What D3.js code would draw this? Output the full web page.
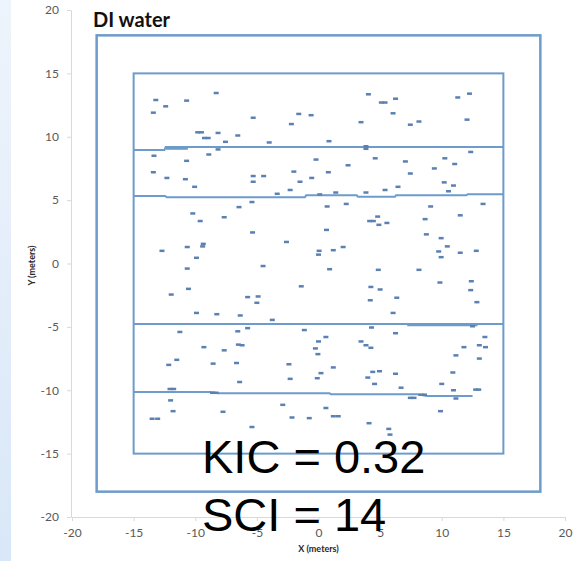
<!DOCTYPE html>
<html>
<head>
<meta charset="utf-8">
<script src="https://cdn.jsdelivr.net/npm/d3@7/dist/d3.min.js"></script>
<style>
  html, body { margin: 0; padding: 0; background: #fff; }
  svg { display: block; }
</style>
</head>
<body>
<svg id="chart" width="581" height="561"></svg>
<script>
// Sampled positions (meters) of the marked points
const pointsX = [
  -8.3, -13.2, -12.4, -10.7, -13.4, -5.3, -1.6, -0.6, -2.2, -9.8, -9.5, -8.15, -9.25, -8.95, -6.55, -7.55, -4.0, 0.85,
  -13.35, -10.7, -8.9, -8.15, -0.2, -13.4, -12.3, -10.8, -10.05, -5.3, -4.45, -5.3, -2.0, -0.55, -1.5, 0.8,
  -2.3, -3.35, 0.1, -6.45, -5.4, 0.7,
  4.05, 5.1, 5.4, 6.25, 6.05, 3.45, 7.45, 8.15, 11.3, 12.25, 12.05, 3.85, 3.85, 12.35, 4.6, 7.05, 10.25, 11.05,
  9.4, 2.4, 7.45, 10.2, 10.95, 10.55, 6.45, 5.4, 3.85, 1.4, 2.25, 9.1, 13.35,
  -10.2, -9.6, -7.65, -5.35, -2.6, 0.65, -12.7, -10.65, -9.35, -9.4, -9.9, -10.65, -4.5, 0.05, 0.0, 0.9,
  -10.55, -11.95, -1.4, -5.75, -4.9, -5.0, -9.9, -8.25, -6.35, -3.75, -11.25, -6.55, -5.75, -1.15, 0.6, 0.0,
  -9.3, -6.5, -6.2, -0.25,
  4.8, 4.15, 4.45, 4.9, 5.55, 8.65, 11.5, 8.75, 9.95, 10.45, 9.75, 9.95, 11.5, 12.8, 1.2, 2.0, 4.85, 8.15,
  4.25, 5.0, 9.85, 12.4, 12.35, 12.85, 4.2, 6.35, 6.05, 4.3, 6.25, 12.5, 3.45, 3.85, 4.25, 11.8, 13.05, 13.5, 13.55,
  -7.65, -0.05, -12.15, -11.5, -8.55, -6.65, -2.4, -2.3, -6.4, 0.2, -0.1, -12.05, -11.75, -8.6, -8.3, -12.0,
  -11.8, -13.5, -13.05, -7.75, -2.9, -2.15, -0.75, 0.6, -5.4,
  11.15, 13.05, 1.2, 4.4, 4.95, 6.25, 4.0, 4.55, 6.7, 10.9, 10.0, 10.95, 12.75, 13.0, 7.45, 7.75, 8.3, 8.6,
  11.15, 1.2, 1.6, 9.9, 4.1, 5.7, 5.8
];
const pointsY = [
  13.45, 12.9, 12.4, 12.85, 11.9, 11.5, 11.8, 11.7, 11.0, 10.35, 10.35, 10.3, 9.9, 9.9, 10.1, 9.6, 9.55, 9.65,
  8.5, 8.1, 8.6, 9.0, 8.2, 7.2, 6.75, 6.65, 6.05, 6.9, 6.9, 6.45, 7.25, 6.75, 6.45, 7.2,
  5.8, 5.5, 5.45, 4.45, 4.85, 4.5,
  13.35, 12.7, 12.7, 13.0, 11.85, 11.15, 10.95, 11.2, 13.1, 13.4, 11.35, 9.25, 9.05, 8.8, 8.3, 8.05, 8.3, 7.85,
  7.5, 7.75, 7.1, 6.4, 6.15, 5.7, 6.05, 5.8, 5.6, 5.6, 4.7, 4.5, 4.7,
  3.95, 3.35, 3.65, 2.45, 1.7, 2.65, 1.0, 1.3, 1.55, 1.35, 0.45, -0.4, -0.2, 1.0, 0.7, -0.45,
  -2.0, -2.45, -1.8, -2.65, -2.6, -3.1, -3.9, -4.0, -4.1, -4.45, -5.4, -5.35, -5.1, -5.25, -5.8, -6.15,
  -6.6, -6.4, -6.45, -6.7,
  3.7, 3.35, 3.35, 3.05, 3.2, 3.5, 3.8, 2.3, 2.0, 1.35, 0.95, 0.5, 0.85, 1.0, 1.05, 1.3, -0.5, -0.5,
  -1.85, -2.05, -1.5, -1.4, -2.1, -3.05, -2.9, -2.7, -3.9, -5.05, -5.5, -4.95, -6.15, -6.45, -6.65, -6.6, -6.45, -5.8, -6.6,
  -6.85, -7.15, -8.0, -7.6, -7.9, -7.85, -7.95, -9.1, -9.35, -8.65, -9.05, -9.9, -9.9, -10.2, -10.2, -10.8,
  -11.65, -12.25, -12.25, -11.7, -11.15, -12.15, -12.2, -11.4, -12.9,
  -7.25, -7.5, -8.2, -8.55, -8.5, -8.7, -9.0, -9.5, -9.8, -8.6, -9.5, -10.0, -9.95, -9.95, -10.6, -10.6, -10.35, -10.35,
  -10.65, -12.05, -12.05, -11.65, -12.6, -13.05, -13.5
];

// Boundary squares (half-width in meters)
const outerHalf = 18;
const innerHalf = 15;

// Horizontal transect lines, as [x, y] vertices in meters
const transectA = [[-15, 8.95], [-12.5, 8.95], [-12.4, 9.2], [15, 9.2]];
const transectA2 = [[-12.4, 9.05], [-10.6, 9.05]];
const transectB = [[-15, 5.33], [-12.45, 5.33], [-12.3, 5.22], [-1.1, 5.22], [-1.0, 5.38], [3.1, 5.38],
                   [3.2, 5.27], [6.2, 5.27], [6.3, 5.38], [12.0, 5.38], [12.1, 5.46], [15, 5.46]];
const transectC = [[-15, -4.78], [15, -4.78]];
const transectC2 = [[7.2, -4.88], [12.9, -4.88]];
const transectD = [[-15, -10.14], [-8.8, -10.14], [-8.15, -10.24], [0.9, -10.24], [1.0, -10.32],
                   [8.0, -10.32], [8.8, -10.45], [12.5, -10.45]];

const xTicks = [-20, -15, -10, -5, 0, 5, 10, 15, 20];
const yTicks = [-20, -15, -10, -5, 0, 5, 10, 15, 20];

const titleText = "DI water";
const statLines = ["KIC = 0.32", "SCI = 14"];

const svg = d3.select("#chart");

// Pale blue band along the left edge
const defs = svg.append("defs");
const grad = defs.append("linearGradient").attr("id", "band").attr("x1", 0).attr("y1", 0).attr("x2", 0).attr("y2", 1);
grad.append("stop").attr("offset", "0%").attr("stop-color", "#eef4fc");
grad.append("stop").attr("offset", "100%").attr("stop-color", "#d9e7f8");
svg.append("rect").attr("x", 0).attr("y", 0).attr("width", 11).attr("height", 561).attr("fill", "url(#band)");

const x = d3.scaleLinear().domain([-20, 20]).range([72, 565]);
const y = d3.scaleLinear().domain([-20, 20]).range([517, 10]);

const tickFont = "Lato, 'Open Sans', sans-serif";
const plainNumber = d => String(d);  // hyphen-minus, as in the labels

// Axes
const yAxis = svg.append("g").attr("transform", `translate(${x(-20) - 1},0)`)
  .call(d3.axisLeft(y).tickValues(yTicks).tickFormat(plainNumber).tickSize(4).tickPadding(8).tickSizeOuter(0));
const xAxis = svg.append("g").attr("transform", `translate(0,${y(-20)})`)
  .call(d3.axisBottom(x).tickValues(xTicks).tickFormat(plainNumber).tickSize(4).tickPadding(7).tickSizeOuter(0));
[xAxis, yAxis].forEach(g => {
  g.select(".domain").attr("stroke", "#d9d9d9").attr("stroke-width", 1);
  g.selectAll(".tick line").attr("stroke", "#d9d9d9");
  g.selectAll(".tick text").attr("fill", "#595959").style("font-family", tickFont).style("font-size", "12px");
});

// Axis titles
svg.append("text").attr("transform", `translate(35,${y(0) + 2}) rotate(-90)`)
  .attr("text-anchor", "middle").style("font-family", tickFont).style("font-weight", "bold")
  .style("font-size", "9px").attr("fill", "#262626").text("Y (meters)");
svg.append("text").attr("x", x(0)).attr("y", 552)
  .attr("text-anchor", "middle").style("font-family", tickFont).style("font-weight", "bold")
  .style("font-size", "9px").attr("fill", "#262626").text("X (meters)");

// Title
svg.append("text").attr("x", 93).attr("y", 27)
  .style("font-family", "Lato, sans-serif").style("font-weight", "bold").style("font-size", "20px")
  .attr("fill", "#111").text(titleText);

const lineColor = "#6d9bcc";

// Outer and inner squares
[[outerHalf, 2.5], [innerHalf, 2]].forEach(([h, w]) => {
  svg.append("rect")
    .attr("x", x(-h)).attr("y", y(h))
    .attr("width", x(h) - x(-h)).attr("height", y(-h) - y(h))
    .attr("fill", "none").attr("stroke", lineColor).attr("stroke-width", w);
});

// Transects
const line = d3.line().x(d => x(d[0])).y(d => y(d[1]));
[transectA, transectA2, transectB, transectC, transectC2, transectD].forEach(pts => {
  svg.append("path").attr("d", line(pts)).attr("fill", "none")
    .attr("stroke", lineColor).attr("stroke-width", 2);
});

// Point markers: short horizontal dashes
const pts = pointsX.map((v, i) => ({ x: v, y: pointsY[i] }));
svg.append("g").selectAll("rect").data(pts).join("rect")
  .attr("x", d => x(d.x) - 2.5).attr("y", d => y(d.y) - 1.25)
  .attr("width", 5).attr("height", 2.5)
  .attr("fill", "#5b80b2");

// Summary statistics
statLines.forEach((t, i) => {
  svg.append("text").attr("x", 202).attr("y", 473 + i * 58)
    .style("font-family", "'Liberation Sans', Arial, sans-serif").style("font-size", "47px")
    .attr("fill", "#000").text(t);
});
</script>
</body>
</html>
